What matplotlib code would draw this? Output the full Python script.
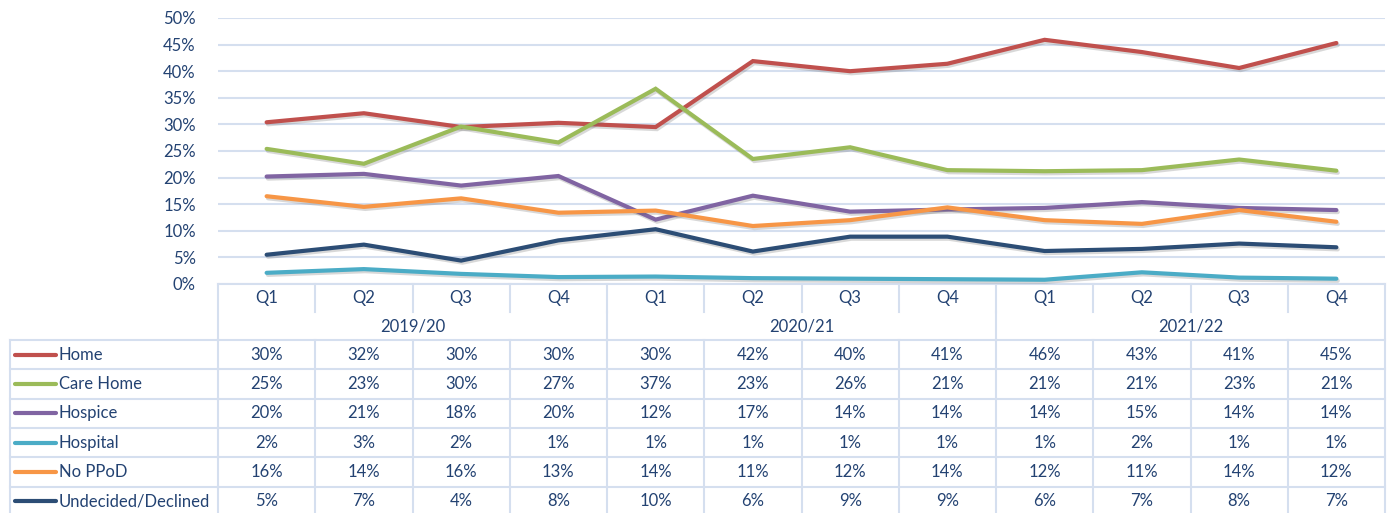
import matplotlib
matplotlib.use("Agg")
import matplotlib.pyplot as plt
import matplotlib.patheffects as pe
import matplotlib.ticker as ticker
from matplotlib.transforms import blended_transform_factory
import numpy as np

# Quarters and financial years
QUARTERS = ["Q1", "Q2", "Q3", "Q4"] * 3
YEARS = ["2019/20", "2020/21", "2021/22"]

SERIES = ["Home", "Care Home", "Hospice", "Hospital", "No PPoD", "Undecided/Declined"]
COLORS = ["#C0504D", "#9BBB59", "#8064A2", "#4BACC6", "#F79646", "#2C4D75"]

home = [30.4, 32.1, 29.5, 30.3, 29.5, 41.9, 40.0, 41.4, 45.9, 43.6, 40.6, 45.3]
care_home = [25.4, 22.6, 29.6, 26.6, 36.7, 23.5, 25.7, 21.4, 21.2, 21.4, 23.4, 21.3]
hospice = [20.2, 20.7, 18.5, 20.3, 12.1, 16.6, 13.6, 14.0, 14.3, 15.4, 14.3, 13.9]
hospital = [2.1, 2.8, 1.9, 1.3, 1.4, 1.1, 1.0, 0.9, 0.8, 2.2, 1.2, 1.0]
no_ppod = [16.5, 14.5, 16.1, 13.4, 13.8, 10.9, 12.0, 14.4, 12.0, 11.3, 13.9, 11.7]
undecided = [5.5, 7.4, 4.4, 8.2, 10.3, 6.1, 8.9, 8.9, 6.2, 6.6, 7.6, 6.9]

# table values as shown (rounded)
TABLE = [
    [30, 32, 30, 30, 30, 42, 40, 41, 46, 43, 41, 45],
    [25, 23, 30, 27, 37, 23, 26, 21, 21, 21, 23, 21],
    [20, 21, 18, 20, 12, 17, 14, 14, 14, 15, 14, 14],
    [2, 3, 2, 1, 1, 1, 1, 1, 1, 2, 1, 1],
    [16, 14, 16, 13, 14, 11, 12, 14, 12, 11, 14, 12],
    [5, 7, 4, 8, 10, 6, 9, 9, 6, 7, 8, 7],
]

W, H = 1387, 513
TXT = "#234272"
GRID = "#D5DFEF"
FS = 12
plt.rcParams["font.family"] = ["Lato", "DejaVu Sans"]

fig = plt.figure(figsize=(W / 100, H / 100), dpi=100)
fig.patch.set_facecolor("white")

def fx(px):
    return px / W

def fy(py):
    return 1 - py / H

ax = fig.add_axes([fx(218), fy(284), fx(1385) - fx(218), fy(18) - fy(284)])
x = np.arange(len(QUARTERS))
all_series = [home, care_home, hospice, hospital, no_ppod, undecided]
for vals, col, name in zip(all_series, COLORS, SERIES):
    ax.plot(x, np.array(vals) / 100, color=col, lw=3.0, solid_capstyle="round",
            solid_joinstyle="miter", label=name, zorder=3,
            path_effects=[pe.SimpleLineShadow(offset=(1.0, -1.5), shadow_color="#666666", alpha=0.25),
                          pe.Normal()])

ax.set_xlim(-0.5, len(QUARTERS) - 0.5)
ax.set_ylim(0, 0.5)
ax.yaxis.set_major_locator(ticker.MultipleLocator(0.05))
ax.yaxis.set_major_formatter(ticker.FuncFormatter(lambda v, _: f"{v * 100:.0f}%"))
ax.grid(axis="y", color=GRID, lw=1.5)
ax.set_axisbelow(True)
ax.set_xticks([])
for s in ax.spines.values():
    s.set_visible(False)
ax.tick_params(axis="y", length=0, pad=16, labelsize=FS, labelcolor=TXT)

# data table below the chart
tr = blended_transform_factory(ax.transData, fig.transFigure)
ftr = fig.transFigure
lkw = dict(color=GRID, lw=1.5, clip_on=False)
n = len(QUARTERS)
xl, xr = -0.5, n - 0.5

# quarter row and year row
for i, q in enumerate(QUARTERS):
    fig.text(i, fy(298), q, transform=tr, ha="center", va="center", fontsize=FS, color=TXT)
for j, yr in enumerate(YEARS):
    fig.text(4 * j + 1.5, fy(326), yr, transform=tr, ha="center", va="center", fontsize=FS, color=TXT)

row_top = 340
row_h = 29.3
# horizontal lines
ax.plot([xl, xr], [fy(284), fy(284)], transform=tr, **lkw)
for k in range(len(SERIES) + 1):
    yy = fy(row_top + k * row_h)
    ax.plot([xl, xr], [yy, yy], transform=tr, **lkw)
    ax.plot([fx(10), fx(218)], [yy, yy], transform=ftr, **lkw)
# vertical lines
ax.plot([xl, xl], [fy(284), fy(H)], transform=tr, **lkw)
ax.plot([xr, xr], [fy(284), fy(H)], transform=tr, **lkw)
ax.plot([fx(10), fx(10)], [fy(row_top), fy(H)], transform=ftr, **lkw)
for i in range(1, n):
    ax.plot([i - 0.5, i - 0.5], [fy(284), fy(312)], transform=tr, **lkw)
    ax.plot([i - 0.5, i - 0.5], [fy(row_top), fy(H)], transform=tr, **lkw)
for j in range(1, len(YEARS)):
    ax.plot([4 * j - 0.5] * 2, [fy(312), fy(row_top)], transform=tr, **lkw)

# rows with legend keys
for k, (name, col, vals) in enumerate(zip(SERIES, COLORS, TABLE)):
    yc = fy(row_top + (k + 0.5) * row_h)
    ax.plot([fx(15), fx(56)], [yc, yc], transform=ftr, color=col, lw=3.0,
            solid_capstyle="round", clip_on=False)
    fig.text(fx(59), yc, name, ha="left", va="center", fontsize=FS, color=TXT)
    for i, v in enumerate(vals):
        fig.text(i, yc, f"{v}%", transform=tr, ha="center", va="center", fontsize=FS, color=TXT)

fig.savefig("out.png", dpi=100, facecolor="white")
